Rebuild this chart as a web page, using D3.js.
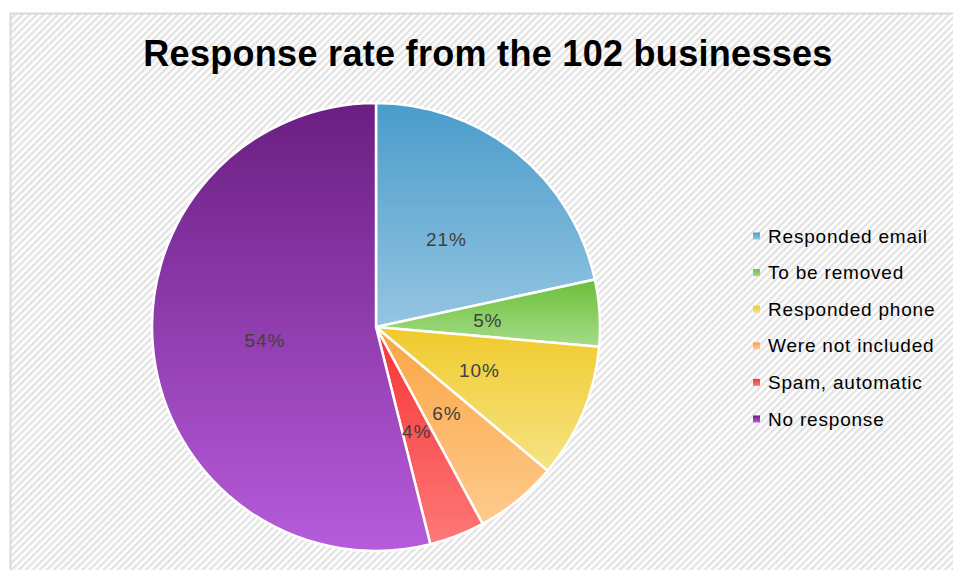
<!DOCTYPE html>
<html>
<head>
<meta charset="utf-8">
<script src="https://cdn.jsdelivr.net/npm/d3@7"></script>
<style>
  body { margin: 0; background: #fff; }
  svg { display: block; font-family: "Liberation Sans", Arial, sans-serif; }
</style>
</head>
<body>
<svg id="chart" width="953" height="570"></svg>
<script>
const categories = ['Responded email', 'To be removed', 'Responded phone', 'Were not included', 'Spam, automatic', 'No response'];
const shares = [21.6, 4.8, 9.7, 6.0, 4.0, 53.9];
const labels = ['21%', '5%', '10%', '6%', '4%', '54%'];
const topColors = ['#4a9ccb', '#6bbf3b', '#f0ca2c', '#fba443', '#f73434', '#6a1e82'];
const bottomColors = ['#95c5e1', '#a5dc88', '#f6e485', '#fecb8e', '#fd7878', '#b65cdb'];

const svg = d3.select('#chart');
const defs = svg.append('defs');

// hatched chart background
const pat = defs.append('pattern').attr('id', 'hatch')
    .attr('patternUnits', 'userSpaceOnUse')
    .attr('width', 5).attr('height', 5)
    .attr('patternTransform', 'rotate(45)');
pat.append('rect').attr('width', 5).attr('height', 5).attr('fill', '#fff');
pat.append('rect').attr('width', 2.4).attr('height', 5).attr('fill', '#e3e3e3');

svg.append('rect')
    .attr('x', 10.5).attr('y', 13.5)
    .attr('width', 960).attr('height', 580)
    .attr('fill', 'url(#hatch)')
    .attr('stroke', '#d9d9d9').attr('stroke-width', 2);

svg.append('text')
    .attr('x', 488).attr('y', 66)
    .attr('text-anchor', 'middle')
    .attr('font-size', 36).attr('font-weight', 'bold')
    .attr('letter-spacing', 0.3)
    .attr('fill', '#000')
    .text('Response rate from the 102 businesses');

categories.forEach((c, i) => {
    const g = defs.append('linearGradient').attr('id', 'grad' + i)
        .attr('x1', 0).attr('y1', 0).attr('x2', 0).attr('y2', 1);
    g.append('stop').attr('offset', '0%').attr('stop-color', topColors[i]);
    g.append('stop').attr('offset', '100%').attr('stop-color', bottomColors[i]);
});

const cx = 376, cy = 327, radius = 224;
const pie = d3.pie().sort(null).value(d => d.value);
const arcs = pie(shares.map((v, i) => ({ value: v, i })));
const arc = d3.arc().innerRadius(0).outerRadius(radius);
const labelArc = d3.arc().innerRadius(112).outerRadius(112);

const gPie = svg.append('g').attr('transform', `translate(${cx},${cy})`);
gPie.selectAll('path').data(arcs).enter().append('path')
    .attr('d', arc)
    .attr('fill', d => `url(#grad${d.data.i})`)
    .attr('stroke', '#fff').attr('stroke-width', 2.5)
    .attr('stroke-linejoin', 'round');

gPie.selectAll('text').data(arcs).enter().append('text')
    .attr('transform', d => `translate(${labelArc.centroid(d)})`)
    .attr('text-anchor', 'middle')
    .attr('dy', '0.35em')
    .attr('font-size', 19).attr('letter-spacing', 0.9)
    .attr('fill', '#404040')
    .text(d => labels[d.data.i]);

const legend = svg.append('g').attr('transform', 'translate(753,236)');
const item = legend.selectAll('g').data(categories).enter().append('g')
    .attr('transform', (d, i) => `translate(0,${i * 36.6})`);
item.append('rect')
    .attr('x', 0).attr('y', -3.5).attr('width', 7).attr('height', 7)
    .attr('fill', (d, i) => `url(#grad${i})`);
item.append('text')
    .attr('x', 15).attr('dy', '0.35em')
    .attr('font-size', 19).attr('letter-spacing', 0.8)
    .attr('fill', '#000')
    .text(d => d);
</script>
</body>
</html>
